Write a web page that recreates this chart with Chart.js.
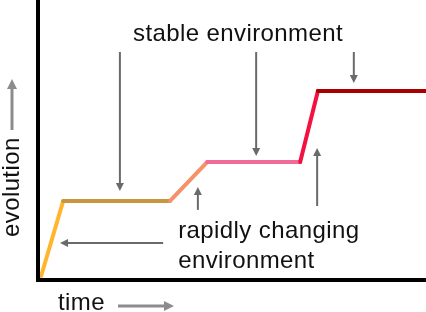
<!DOCTYPE html>
<html>
<head>
<meta charset="utf-8">
<script src="https://cdn.jsdelivr.net/npm/chart.js@4/dist/chart.umd.min.js"></script>
<style>
  html, body { margin: 0; padding: 0; background: #fff; }
  #wrap { width: 426px; height: 312px; position: relative; }
</style>
</head>
<body>
<div id="wrap"><canvas id="c"></canvas></div>
<script>
// ---- data (x = time, y = evolution, 0..100 scale) ----
const timeValues      = [0.3, 6.0, 33.7, 43.3, 67.4, 72.0, 100];
const evolutionValues = [0.7, 27.7, 27.7, 41.7, 41.7, 67.3, 67.3];
const phaseLabels = ['rapid', 'stable', 'rapid', 'stable', 'rapid', 'stable'];

const axisTitleX = 'time';
const axisTitleY = 'evolution';
const noteStable = 'stable environment';
const noteRapid  = ['rapidly changing', 'environment'];

// segment colours (style)
const segColors = ['#FFB52E', '#C9973B', '#F5926A', '#F06B97', '#F3123F', '#A60000'];

const points = timeValues.map((t, i) => ({ x: t, y: evolutionValues[i] }));

const FONT = '24px "Liberation Sans", Arial, sans-serif';
const ARROW = '#6a6a6a';
const AXARROW = '#8c8c8c';

function arrow(ctx, x1, y1, x2, y2, color, lw, head, hw) {
  const ang = Math.atan2(y2 - y1, x2 - x1);
  ctx.save();
  ctx.strokeStyle = color; ctx.fillStyle = color; ctx.lineWidth = lw;
  ctx.beginPath();
  ctx.moveTo(x1, y1);
  ctx.lineTo(x2 - Math.cos(ang) * head * 0.6, y2 - Math.sin(ang) * head * 0.6);
  ctx.stroke();
  ctx.translate(x2, y2); ctx.rotate(ang);
  ctx.beginPath();
  ctx.moveTo(0, 0); ctx.lineTo(-head, -hw / 2); ctx.lineTo(-head, hw / 2); ctx.closePath();
  ctx.fill();
  ctx.restore();
}

const annotate = {
  id: 'annotate',
  afterDatasetsDraw(chart) {
    const { ctx, chartArea: a, scales: { x, y } } = chart;
    const X = v => x.getPixelForValue(v), Y = v => y.getPixelForValue(v);
    ctx.save();
    // axes
    ctx.fillStyle = '#000';
    ctx.fillRect(a.left - 4, 0, 4, a.bottom + 4);
    ctx.fillRect(a.left - 4, a.bottom, a.right - a.left + 4, 4);

    ctx.font = FONT;
    ctx.fillStyle = '#111';
    ctx.textBaseline = 'alphabetic';
    if ('letterSpacing' in ctx) ctx.letterSpacing = '0.4px';
    // stable environment
    ctx.textAlign = 'left';
    ctx.fillText(noteStable, X(24.1), Y(85.3));
    // rapidly changing environment
    ctx.fillText(noteRapid[0], X(35.8), Y(14.4));
    ctx.fillText(noteRapid[1], X(35.8), Y(3.6));

    // down arrows from "stable environment"
    arrow(ctx, X(20.7), Y(81.3), X(20.7), Y(31.3), ARROW, 2, 8, 8);
    arrow(ctx, X(56.0), Y(81.3), X(56.0), Y(43.9), ARROW, 2, 8, 8);
    arrow(ctx, X(81.3), Y(81.3), X(81.3), Y(70.1), ARROW, 2, 8, 8);
    // arrows from "rapidly changing environment"
    arrow(ctx, X(40.9), Y(24.5), X(40.9), Y(32.7), ARROW, 2, 8, 8);
    arrow(ctx, X(71.8), Y(25.9), X(71.8), Y(46.8), ARROW, 2, 8, 8);
    arrow(ctx, X(31.9), Y(12.6), X(5.2), Y(12.6), ARROW, 2, 8, 8);

    // axis titles
    ctx.fillStyle = '#111';
    ctx.save();
    ctx.translate(a.left - 21, a.bottom - 41);
    ctx.rotate(-Math.PI / 2);
    ctx.fillText(axisTitleY, 0, 0);
    ctx.restore();
    arrow(ctx, a.left - 28, a.bottom - 148, a.left - 28, a.bottom - 199, AXARROW, 3, 10, 10);

    ctx.fillText(axisTitleX, a.left + 18, a.bottom + 32);
    arrow(ctx, a.left + 78, a.bottom + 28, a.left + 134, a.bottom + 28, AXARROW, 3, 10, 10);
    ctx.restore();
  }
};

new Chart(document.getElementById('c'), {
  type: 'line',
  data: {
    datasets: [{
      label: 'evolution',
      data: points,
      borderWidth: 4,
      borderColor: segColors[0],
      pointRadius: 0,
      tension: 0,
      borderCapStyle: 'round',
      borderJoinStyle: 'miter',
      clip: 6,
      segment: {
        borderColor: c => segColors[c.p0DataIndex]
      }
    }]
  },
  options: {
    responsive: true,
    maintainAspectRatio: false,
    animation: false,
    events: [],
    layout: { padding: { left: 40, right: 0, top: 0, bottom: 34 } },
    plugins: { legend: { display: false }, tooltip: { enabled: false } },
    scales: {
      x: { type: 'linear', min: 0, max: 100, display: false },
      y: { type: 'linear', min: 0, max: 100, display: false }
    }
  },
  plugins: [annotate]
});
</script>
</body>
</html>
